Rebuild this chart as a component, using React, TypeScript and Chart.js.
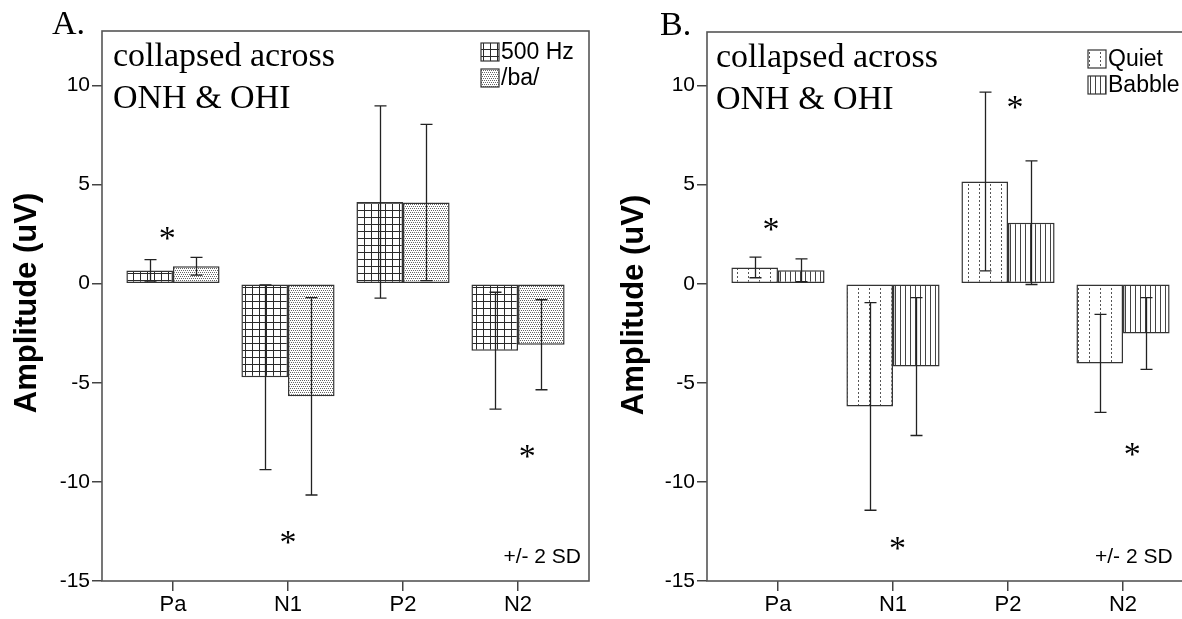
import React, { useEffect, useRef } from 'react';
import { Chart, registerables } from 'chart.js';
Chart.register(...registerables);

// ---------- data ----------
const categories = ['Pa', 'N1', 'P2', 'N2'];
const yTicks = [-15, -10, -5, 0, 5, 10];

const labelsA = ['500 Hz', '/ba/'];
const hz500Mean = [0.67, -4.72, 4.12, -3.38];
const hz500Sd2 = [0.54, 4.66, 4.85, 2.95];
const baMean = [0.88, -5.68, 4.1, -3.08];
const baSd2 = [0.45, 4.98, 3.94, 2.27];
const sigA = [
  { x: -0.05, y: 2.59 },
  { x: 1.0, y: -12.74 },
  { x: 3.08, y: -8.4 },
];

const labelsB = ['Quiet', 'Babble'];
const quietMean = [0.82, -6.19, 5.16, -4.02];
const quietSd2 = [0.52, 5.24, 4.51, 2.47];
const babbleMean = [0.68, -4.18, 3.08, -2.51];
const babbleSd2 = [0.57, 3.48, 3.12, 1.81];
const sigB = [
  { x: -0.06, y: 3.04 },
  { x: 1.04, y: -13.05 },
  { x: 2.06, y: 9.24 },
  { x: 3.08, y: -8.3 },
];

// ---------- patterns ----------
function makePattern(kind: string): CanvasPattern | string {
  const c = document.createElement('canvas');
  const ctx = c.getContext('2d');
  if (!ctx) return '#ccc';
  if (kind === 'grid') {
    c.width = 7; c.height = 7;
    ctx.fillStyle = '#fff'; ctx.fillRect(0, 0, 7, 7);
    ctx.fillStyle = '#2a2a2a';
    ctx.fillRect(0, 0, 7, 1);
    ctx.fillRect(0, 0, 1, 7);
  } else if (kind === 'stipple') {
    c.width = 4; c.height = 4;
    ctx.fillStyle = '#fff'; ctx.fillRect(0, 0, 4, 4);
    ctx.fillStyle = '#666';
    ctx.fillRect(0, 0, 1, 1);
    ctx.fillRect(2, 0, 1, 1);
    ctx.fillRect(1, 2, 1, 1);
    ctx.fillRect(3, 2, 1, 1);
  } else if (kind === 'dotted') {
    c.width = 11; c.height = 4;
    ctx.fillStyle = '#fff'; ctx.fillRect(0, 0, 11, 4);
    ctx.fillStyle = '#555';
    ctx.fillRect(5, 0, 1, 2);
  } else {
    c.width = 5; c.height = 2;
    ctx.fillStyle = '#fff'; ctx.fillRect(0, 0, 5, 2);
    ctx.fillStyle = '#444';
    ctx.fillRect(0, 0, 1, 2);
  }
  return ctx.createPattern(c, 'repeat') as CanvasPattern;
}

const SANS = '"Liberation Sans", Arial, sans-serif';
const SERIF = '"Liberation Serif", "Times New Roman", serif';

type PanelCfg = {
  letter: string;
  letterX: number; letterY: number;
  noteX: number; noteY1: number; noteY2: number;
  titleX: number; titleY: number;
  legendX: number; legendY: number; legendRow: number;
  sdX: number; sdY: number; sdAlign: CanvasTextAlign;
  axisW: number; top: number; right: number; ymax: number;
  labels: string[];
  means: number[][];
  errs: number[][];
  kinds: string[];
  sig: { x: number; y: number }[];
};

function panelPlugin(cfg: PanelCfg, patterns: (CanvasPattern | string)[]) {
  return {
    id: 'panelDecor',
    afterDatasetsDraw(chart: any) {
      const ctx = chart.ctx as CanvasRenderingContext2D;
      const ys = chart.scales.y;
      ctx.save();
      ctx.strokeStyle = '#222';
      ctx.lineWidth = 1.3;
      cfg.errs.forEach((errs, di) => {
        const meta = chart.getDatasetMeta(di);
        errs.forEach((e, i) => {
          const el = meta.data[i];
          if (!el) return;
          const m = cfg.means[di][i];
          const x = Math.round(el.x) + 0.5;
          const y1 = ys.getPixelForValue(m + e);
          const y2 = ys.getPixelForValue(m - e);
          ctx.beginPath();
          ctx.moveTo(x, y1); ctx.lineTo(x, y2);
          ctx.moveTo(x - 6, y1); ctx.lineTo(x + 6, y1);
          ctx.moveTo(x - 6, y2); ctx.lineTo(x + 6, y2);
          ctx.stroke();
        });
      });
      ctx.restore();
    },
    afterDraw(chart: any) {
      const ctx = chart.ctx as CanvasRenderingContext2D;
      const a = chart.chartArea;
      const xs = chart.scales.x;
      const ys = chart.scales.y;
      ctx.save();
      ctx.strokeStyle = '#555';
      ctx.lineWidth = 1.6;
      ctx.strokeRect(a.left, a.top, a.right - a.left, a.bottom - a.top);
      ctx.fillStyle = '#000';
      ctx.font = `34px ${SERIF}`;
      ctx.textAlign = 'left';
      ctx.textBaseline = 'alphabetic';
      ctx.fillText(cfg.letter, cfg.letterX, cfg.letterY);
      ctx.fillText('collapsed across', cfg.noteX, cfg.noteY1);
      ctx.fillText('ONH & OHI', cfg.noteX, cfg.noteY2);
      ctx.textAlign = 'center';
      cfg.sig.forEach((p) => {
        const px = xs.getPixelForValue(p.x);
        const py = ys.getPixelForValue(p.y);
        ctx.fillText('*', px, py + 17);
      });
      ctx.save();
      ctx.translate(cfg.titleX, cfg.titleY);
      ctx.rotate(-Math.PI / 2);
      ctx.font = `bold 31px ${SANS}`;
      ctx.textAlign = 'center';
      ctx.textBaseline = 'middle';
      ctx.fillText('Amplitude (uV)', 0, 0);
      ctx.restore();
      ctx.font = `23px ${SANS}`;
      ctx.textAlign = 'left';
      ctx.textBaseline = 'middle';
      cfg.labels.forEach((lab, i) => {
        const y = cfg.legendY + i * cfg.legendRow;
        ctx.fillStyle = patterns[i] as any;
        ctx.fillRect(cfg.legendX, y - 9, 18, 18);
        ctx.strokeStyle = '#333';
        ctx.lineWidth = 1.2;
        ctx.strokeRect(cfg.legendX, y - 9, 18, 18);
        ctx.fillStyle = '#000';
        ctx.fillText(lab, cfg.legendX + 20, y + 1);
      });
      ctx.font = `21px ${SANS}`;
      ctx.textAlign = cfg.sdAlign;
      ctx.fillText('+/- 2 SD', cfg.sdX, cfg.sdY);
      ctx.restore();
    },
  };
}

function buildChart(canvas: HTMLCanvasElement, cfg: PanelCfg) {
  const patterns = cfg.kinds.map(makePattern);
  const gridOpts = {
    display: true,
    drawOnChartArea: false,
    drawTicks: true,
    tickLength: 10,
    color: '#444',
    lineWidth: 1.5,
    offset: false,
  };
  return new Chart(canvas, {
    type: 'bar',
    data: {
      datasets: cfg.means.map((vals, di) => ({
        label: cfg.labels[di],
        data: vals.map((y, i) => ({ x: i, y })),
        backgroundColor: patterns[di] as any,
        borderColor: '#333',
        borderWidth: 1.5,
        borderSkipped: false,
        categoryPercentage: 0.81,
        barPercentage: 1,
      })),
    },
    options: {
      animation: false,
      responsive: false,
      layout: { padding: { left: 0, top: cfg.top, right: cfg.right, bottom: 0 } },
      plugins: { legend: { display: false }, tooltip: { enabled: false } },
      scales: {
        x: {
          type: 'linear',
          offset: false,
          min: -0.617,
          max: 3.617,
          afterBuildTicks: (s: any) => {
            s.ticks = categories.map((_, i) => ({ value: i }));
          },
          afterFit: (s: any) => {
            s.height = 38;
          },
          ticks: {
            callback: (v: any) => categories[Math.round(Number(v))] ?? '',
            font: { size: 22, family: SANS },
            color: '#000',
            padding: 1,
            autoSkip: false,
            maxRotation: 0,
          },
          grid: gridOpts,
          border: { display: false },
        },
        y: {
          type: 'linear',
          min: -15,
          max: cfg.ymax,
          afterBuildTicks: (s: any) => {
            s.ticks = yTicks.map((v) => ({ value: v }));
          },
          afterFit: (s: any) => {
            s.width = cfg.axisW;
          },
          ticks: {
            callback: (v: any) => String(v),
            font: { size: 21, family: SANS },
            color: '#000',
            padding: 2,
          },
          grid: gridOpts,
          border: { display: false },
        },
      },
    } as any,
    plugins: [panelPlugin(cfg, patterns)],
  });
}

const cfgA: PanelCfg = {
  letter: 'A.', letterX: 52, letterY: 34,
  noteX: 113, noteY1: 66, noteY2: 108,
  titleX: 27, titleY: 303,
  legendX: 481, legendY: 52, legendRow: 26,
  sdX: 581, sdY: 557, sdAlign: 'right',
  axisW: 102, top: 31, right: 11, ymax: 12.75,
  labels: labelsA,
  means: [hz500Mean, baMean],
  errs: [hz500Sd2, baSd2],
  kinds: ['grid', 'stipple'],
  sig: sigA,
};

const cfgB: PanelCfg = {
  letter: 'B.', letterX: 60, letterY: 35,
  noteX: 116, noteY1: 67, noteY2: 109,
  titleX: 34, titleY: 305,
  legendX: 488, legendY: 59, legendRow: 26,
  sdX: 495, sdY: 557, sdAlign: 'left',
  axisW: 107, top: 32, right: 6, ymax: 12.7,
  labels: labelsB,
  means: [quietMean, babbleMean],
  errs: [quietSd2, babbleSd2],
  kinds: ['dotted', 'vlines'],
  sig: sigB,
};

function Panel({ cfg, left }: { cfg: PanelCfg; left: number }) {
  const ref = useRef<HTMLCanvasElement>(null);
  useEffect(() => {
    if (!ref.current) return;
    const chart = buildChart(ref.current, cfg);
    return () => chart.destroy();
  }, [cfg]);
  return (
    <div style={{ position: 'absolute', left, top: 0, width: 600, height: 619 }}>
      <canvas ref={ref} width={600} height={619} style={{ display: 'block' }} />
    </div>
  );
}

export default function App() {
  return (
    <div
      style={{
        position: 'fixed',
        left: 0,
        top: 0,
        width: 1182,
        height: 619,
        overflow: 'hidden',
        background: '#fff',
      }}
    >
      <Panel cfg={cfgA} left={0} />
      <Panel cfg={cfgB} left={600} />
    </div>
  );
}
